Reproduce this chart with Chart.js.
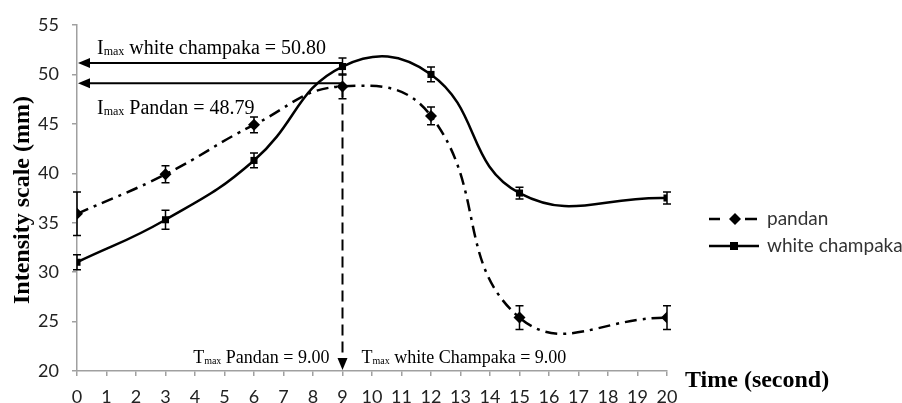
<!DOCTYPE html>
<html>
<head>
<meta charset="utf-8">
<script src="https://cdn.jsdelivr.net/npm/chart.js@4.4.1/dist/chart.umd.min.js"></script>
<style>
    html, body { margin: 0; padding: 0; background: #ffffff; }
    #wrap { width: 902px; height: 403px; position: relative; }
</style>
</head>
<body>
<div id="wrap"><canvas id="intensityChart"></canvas></div>
<script>
// Data
const timeSeconds = [0, 3, 6, 9, 12, 15, 20];
const pandanValues = [35.9, 39.9, 44.9, 48.79, 45.8, 25.4, 25.4];
const pandanErrors = [2.2, 0.85, 0.8, 1.25, 0.9, 1.2, 1.2];
const champakaValues = [31.0, 35.3, 41.3, 50.80, 50.0, 38.0, 37.5];
const champakaErrors = [0.75, 0.95, 0.75, 0.85, 0.75, 0.6, 0.6];
const seriesNames = ['pandan', 'white champaka'];

// Annotation values
const tMax = 9.00;
const arrowLevels = [51.15, 49.1];
const imaxLabels = [
    { main: 'I', sub: 'max', rest: ' white champaka = 50.80' },
    { main: 'I', sub: 'max', rest: ' Pandan = 48.79' }
];
const tmaxLabels = [
    { main: 'T', sub: 'max', rest: ' Pandan = 9.00' },
    { main: 'T', sub: 'max', rest: ' white Champaka = 9.00' }
];

const INK = '#000000';
const AXIS_GRAY = '#a0a0a0';
const TICK_FONT = "Lato, 'Open Sans', sans-serif";
const SERIF = "'Liberation Serif', 'DejaVu Serif', serif";

function toPoints(xs, ys) {
    return xs.map((t, i) => ({ x: t, y: ys[i] }));
}

// width of a label with subscript
function measureSub(ctx, part, size) {
    ctx.font = size + 'px ' + SERIF;
    const a = ctx.measureText(part.main).width;
    const c = ctx.measureText(part.rest).width;
    ctx.font = Math.round(size * 0.58) + 'px ' + SERIF;
    const b = ctx.measureText(part.sub).width;
    return a + b + c;
}

function drawSub(ctx, part, x, y, size) {
    ctx.textAlign = 'left';
    ctx.textBaseline = 'alphabetic';
    ctx.fillStyle = INK;
    ctx.font = size + 'px ' + SERIF;
    ctx.fillText(part.main, x, y);
    x += ctx.measureText(part.main).width;
    ctx.font = Math.round(size * 0.58) + 'px ' + SERIF;
    ctx.fillText(part.sub, x, y + 1);
    x += ctx.measureText(part.sub).width;
    ctx.font = size + 'px ' + SERIF;
    ctx.fillText(part.rest, x, y);
}

function arrowHead(ctx, x, y, dir) {
    // dir: 'left' or 'down'
    ctx.beginPath();
    if (dir === 'left') {
        ctx.moveTo(x, y);
        ctx.lineTo(x + 12, y - 5);
        ctx.lineTo(x + 12, y + 5);
    } else {
        ctx.moveTo(x, y);
        ctx.lineTo(x - 5, y - 12);
        ctx.lineTo(x + 5, y - 12);
    }
    ctx.closePath();
    ctx.fill();
}

const errorBarPlugin = {
    id: 'errorBars',
    afterDatasetsDraw(chart) {
        const { ctx, scales: { x, y } } = chart;
        const sets = [
            { values: pandanValues, errors: pandanErrors },
            { values: champakaValues, errors: champakaErrors }
        ];
        ctx.save();
        ctx.strokeStyle = INK;
        ctx.lineWidth = 1.5;
        sets.forEach(s => {
            timeSeconds.forEach((t, i) => {
                const px = x.getPixelForValue(t);
                const top = y.getPixelForValue(s.values[i] + s.errors[i]);
                const bot = y.getPixelForValue(s.values[i] - s.errors[i]);
                ctx.beginPath();
                ctx.moveTo(px, top);
                ctx.lineTo(px, bot);
                ctx.moveTo(px - 4, top);
                ctx.lineTo(px + 4, top);
                ctx.moveTo(px - 4, bot);
                ctx.lineTo(px + 4, bot);
                ctx.stroke();
            });
        });
        ctx.restore();
    }
};

const annotationPlugin = {
    id: 'maxAnnotations',
    afterDraw(chart) {
        const { ctx, chartArea, scales: { x, y } } = chart;
        const xPeak = x.getPixelForValue(tMax);
        ctx.save();
        ctx.strokeStyle = INK;
        ctx.fillStyle = INK;
        ctx.lineWidth = 2;

        // horizontal arrows to the y axis
        arrowLevels.forEach(level => {
            const py = y.getPixelForValue(level);
            ctx.beginPath();
            ctx.moveTo(xPeak, py);
            ctx.lineTo(chartArea.left + 8, py);
            ctx.stroke();
            arrowHead(ctx, chartArea.left + 1, py, 'left');
        });

        // vertical dashed arrow down to the x axis
        ctx.setLineDash([11, 6]);
        ctx.beginPath();
        ctx.moveTo(xPeak, y.getPixelForValue(pandanValues[3]));
        ctx.lineTo(xPeak, chartArea.bottom - 10);
        ctx.stroke();
        ctx.setLineDash([]);
        arrowHead(ctx, xPeak, chartArea.bottom - 1, 'down');

        // text labels
        drawSub(ctx, imaxLabels[0], chartArea.left + 20, y.getPixelForValue(52.1), 20);
        drawSub(ctx, imaxLabels[1], chartArea.left + 20, y.getPixelForValue(46.0), 20);
        const tY = y.getPixelForValue(20.8);
        const w0 = measureSub(ctx, tmaxLabels[0], 18);
        drawSub(ctx, tmaxLabels[0], xPeak - 13 - w0, tY, 18);
        drawSub(ctx, tmaxLabels[1], xPeak + 19, tY, 18);

        // axis titles
        ctx.fillStyle = INK;
        ctx.font = 'bold 24px ' + SERIF;
        ctx.textAlign = 'left';
        ctx.textBaseline = 'alphabetic';
        ctx.fillText('Time (second)', chartArea.right + 18, chartArea.bottom + 16);

        ctx.save();
        ctx.translate(29, (chartArea.top + chartArea.bottom) / 2 + 2);
        ctx.rotate(-Math.PI / 2);
        ctx.textAlign = 'center';
        ctx.textBaseline = 'alphabetic';
        ctx.font = 'bold 24px ' + SERIF;
        ctx.fillText('Intensity scale (mm)', 0, 0);
        ctx.restore();

        // legend
        const lx = chartArea.right + 42;
        const rows = [chartArea.top + 194, chartArea.top + 221];
        ctx.lineWidth = 2.5;
        // pandan: dash, diamond, dash
        ctx.beginPath();
        ctx.moveTo(lx, rows[0]); ctx.lineTo(lx + 11, rows[0]);
        ctx.moveTo(lx + 36, rows[0]); ctx.lineTo(lx + 48, rows[0]);
        ctx.stroke();
        ctx.beginPath();
        ctx.moveTo(lx + 26, rows[0] - 6);
        ctx.lineTo(lx + 32, rows[0]);
        ctx.lineTo(lx + 26, rows[0] + 6);
        ctx.lineTo(lx + 20, rows[0]);
        ctx.closePath();
        ctx.fill();
        // champaka: solid with square
        ctx.beginPath();
        ctx.moveTo(lx, rows[1]); ctx.lineTo(lx + 50, rows[1]);
        ctx.stroke();
        ctx.fillRect(lx + 21, rows[1] - 4, 8, 8);

        ctx.fillStyle = '#333333';
        ctx.font = '19px ' + TICK_FONT;
        ctx.textAlign = 'left';
        ctx.textBaseline = 'middle';
        ctx.fillText(seriesNames[0], lx + 58, rows[0]);
        ctx.fillText(seriesNames[1], lx + 58, rows[1]);
        ctx.restore();
    }
};

const ctx = document.getElementById('intensityChart');
new Chart(ctx, {
    type: 'line',
    data: {
        datasets: [{
            label: seriesNames[0],
            data: toPoints(timeSeconds, pandanValues),
            borderColor: INK,
            backgroundColor: INK,
            borderWidth: 2.5,
            borderDash: [12, 6, 3, 6],
            tension: 0.45,
            pointStyle: 'rectRot',
            pointRadius: 6,
            pointBorderWidth: 0
        }, {
            label: seriesNames[1],
            data: toPoints(timeSeconds, champakaValues),
            borderColor: INK,
            backgroundColor: INK,
            borderWidth: 2.5,
            tension: 0.45,
            pointStyle: 'rect',
            pointRadius: 5,
            pointBorderWidth: 0
        }]
    },
    options: {
        responsive: true,
        maintainAspectRatio: false,
        animation: false,
        layout: {
            padding: { top: 25, right: 235, left: 0, bottom: 0 }
        },
        plugins: {
            legend: { display: false },
            tooltip: { enabled: false }
        },
        scales: {
            x: {
                type: 'linear',
                min: 0,
                max: 20,
                afterFit: scale => { scale.height = 32; },
                border: { color: AXIS_GRAY, width: 1.5 },
                grid: { drawOnChartArea: false, tickLength: 5, color: AXIS_GRAY, lineWidth: 1.5 },
                ticks: {
                    stepSize: 1,
                    color: '#222222',
                    padding: 10,
                    maxRotation: 0,
                    font: { family: TICK_FONT, size: 18 }
                }
            },
            y: {
                min: 20,
                max: 55,
                afterFit: scale => { scale.width = 77; },
                border: { color: AXIS_GRAY, width: 1.5 },
                grid: { drawOnChartArea: false, tickLength: 5, color: AXIS_GRAY, lineWidth: 1.5 },
                ticks: {
                    stepSize: 5,
                    color: '#222222',
                    padding: 13,
                    font: { family: TICK_FONT, size: 18 }
                }
            }
        }
    },
    plugins: [errorBarPlugin, annotationPlugin]
});
</script>
</body>
</html>
